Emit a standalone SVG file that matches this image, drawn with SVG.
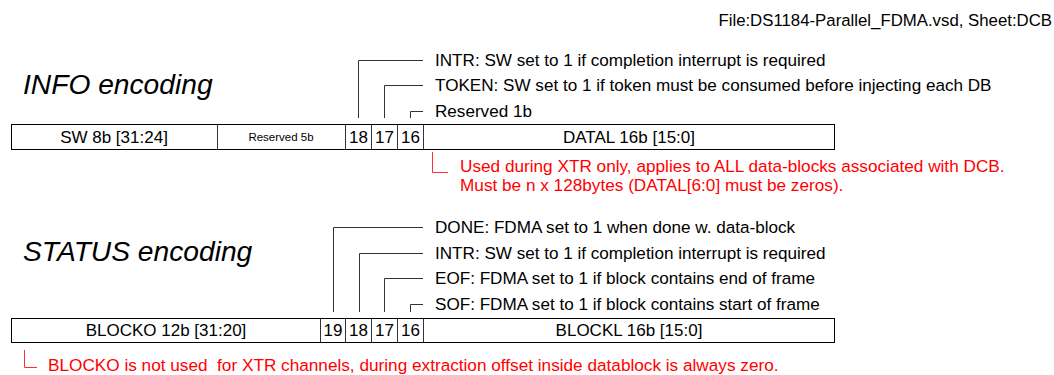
<svg xmlns="http://www.w3.org/2000/svg" width="1054" height="375" viewBox="0 0 1054 375">
<style>
text{font-family:"Liberation Sans",Arial,sans-serif;fill:#000;white-space:pre}
.lbl{font-size:17.1px}
.cell{font-size:17px;text-anchor:middle}
.small{font-size:11.5px;text-anchor:middle}
.title{font-size:28.2px;font-style:italic}
.red{font-size:17.2px;fill:#ff0000}
.box{fill:#fff;stroke:#000;stroke-width:1}
.lead{fill:none;stroke:#333;stroke-width:1}
.rlead{fill:none;stroke:#ff3030;stroke-width:1}
</style>
<rect width="1054" height="375" fill="#fff"/>
<text id="header" x="1052" y="26" font-size="16.8" text-anchor="end">File:DS1184-Parallel_FDMA.vsd, Sheet:DCB</text>

<g id="info">
<text class="title" x="23" y="94">INFO encoding</text>
<rect class="box" x="11.5" y="124.5" width="823" height="25"/>
<line class="lead" x1="217.5" y1="124.5" x2="217.5" y2="149.5"/>
<line class="lead" x1="345.5" y1="124.5" x2="345.5" y2="149.5"/>
<line class="lead" x1="371.5" y1="124.5" x2="371.5" y2="149.5"/>
<line class="lead" x1="397.5" y1="124.5" x2="397.5" y2="149.5"/>
<line class="lead" x1="423.5" y1="124.5" x2="423.5" y2="149.5"/>
<text class="cell" x="114" y="143">SW 8b [31:24]</text>
<text class="small" x="281" y="141">Reserved 5b</text>
<text class="cell" x="358.5" y="143">18</text>
<text class="cell" x="384.5" y="143">17</text>
<text class="cell" x="410.5" y="143">16</text>
<text class="cell" x="629" y="143">DATAL 16b [15:0]</text>
</g>

<g id="info-labels">
<text class="lbl" x="435" y="66">INTR: SW set to 1 if completion interrupt is required</text>
<text class="lbl" x="435" y="91">TOKEN: SW set to 1 if token must be consumed before injecting each DB</text>
<text class="lbl" x="435" y="117">Reserved 1b</text>
<text class="red" x="460" y="172">Used during XTR only, applies to ALL data-blocks associated with DCB.</text>
<text class="red" x="460" y="191">Must be n x 128bytes (DATAL[6:0] must be zeros).</text>
</g>

<g id="status">
<text class="title" x="23" y="261">STATUS encoding</text>
<rect class="box" x="11.5" y="318.5" width="823" height="24"/>
<line class="lead" x1="320.5" y1="318.5" x2="320.5" y2="342.5"/>
<line class="lead" x1="345.5" y1="318.5" x2="345.5" y2="342.5"/>
<line class="lead" x1="371.5" y1="318.5" x2="371.5" y2="342.5"/>
<line class="lead" x1="397.5" y1="318.5" x2="397.5" y2="342.5"/>
<line class="lead" x1="423.5" y1="318.5" x2="423.5" y2="342.5"/>
<text class="cell" x="166" y="336">BLOCKO 12b [31:20]</text>
<text class="cell" x="333" y="336">19</text>
<text class="cell" x="358.5" y="336">18</text>
<text class="cell" x="384.5" y="336">17</text>
<text class="cell" x="410.5" y="336">16</text>
<text class="cell" x="629" y="336">BLOCKL 16b [15:0]</text>
</g>

<g id="status-labels">
<text class="lbl" x="435" y="233">DONE: FDMA set to 1 when done w. data-block</text>
<text class="lbl" x="435" y="259">INTR: SW set to 1 if completion interrupt is required</text>
<text class="lbl" x="435" y="284">EOF: FDMA set to 1 if block contains end of frame</text>
<text class="lbl" x="435" y="310">SOF: FDMA set to 1 if block contains start of frame</text>
<text class="red" x="48" y="371" xml:space="preserve">BLOCKO is not used  for XTR channels, during extraction offset inside datablock is always zero.</text>
</g>

<g id="connectors">
<polyline class="lead" points="358.5,118 358.5,60.5 423,60.5"/>
<polyline class="lead" points="384.5,118 384.5,85.5 423,85.5"/>
<polyline class="lead" points="410.5,118 410.5,111.5 423,111.5"/>
<polyline class="lead" points="333.5,312 333.5,227.5 423,227.5"/>
<polyline class="lead" points="359.5,312 359.5,253.5 423,253.5"/>
<polyline class="lead" points="384.5,312 384.5,278.5 423,278.5"/>
<polyline class="lead" points="410.5,312 410.5,304.5 423,304.5"/>
<polyline class="rlead" points="432.5,152 432.5,172.5 448,172.5"/>
<polyline class="rlead" points="24.5,350 24.5,367.5 37,367.5"/>
</g>
</svg>
